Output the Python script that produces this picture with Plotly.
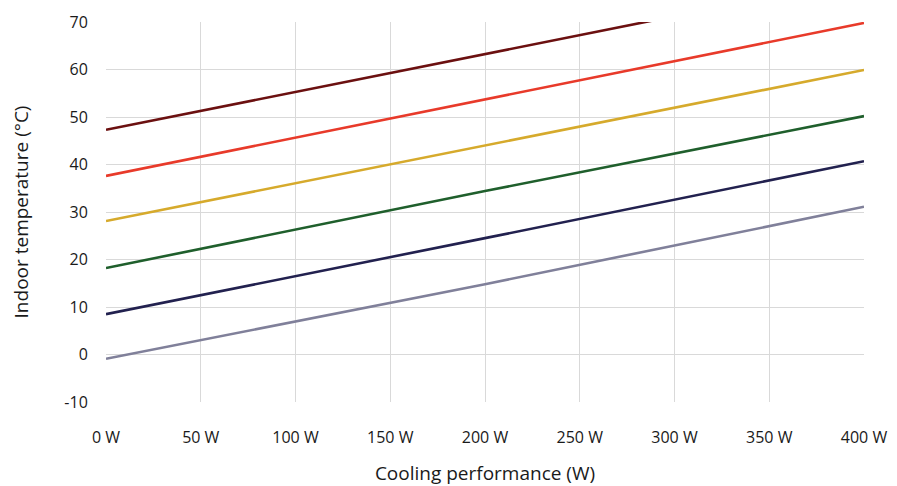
import plotly.graph_objects as go

x_w = [0, 200, 400]
series_names = ["Series A", "Series B", "Series C", "Series D", "Series E", "Series F"]
series_values = [
    [47.3, 63.3, 79.2],
    [37.6, 53.7, 69.8],
    [28.1, 44.0, 59.9],
    [18.2, 34.4, 50.2],
    [8.5, 24.5, 40.7],
    [-0.9, 14.8, 31.1],
]
colors = ["#6b1010", "#e83a2a", "#d6aa2c", "#1f5f2c", "#22214f", "#80809a"]
x_ticks = [0, 50, 100, 150, 200, 250, 300, 350, 400]
x_labels = [f"{v} W" for v in x_ticks]
y_ticks = [-10, 0, 10, 20, 30, 40, 50, 60, 70]
y_labels = [str(v) for v in y_ticks]

fig = go.Figure()
for name, vals, c in zip(series_names, series_values, colors):
    fig.add_trace(go.Scatter(x=x_w, y=vals, mode="lines", name=name,
                             line=dict(color=c, width=2.6)))

font = dict(family="Open Sans, Liberation Sans, sans-serif", size=16, color="#1a1a1a")
fig.update_layout(
    width=897, height=486,
    margin=dict(l=106, r=33, t=22, b=84),
    paper_bgcolor="white", plot_bgcolor="white",
    showlegend=False, font=font,
    xaxis=dict(range=[0, 400], tickvals=x_ticks, ticktext=x_labels,
               showgrid=True, gridcolor="#d9d9d9", gridwidth=1, zeroline=False,
               ticks="outside", ticklen=21, tickcolor="rgba(0,0,0,0)",
               title=dict(text="Cooling performance (W)", standoff=20),
               showline=False, automargin=False),
    yaxis=dict(range=[-10, 70], tickvals=y_ticks, ticktext=y_labels,
               showgrid=True, gridcolor="#d9d9d9", gridwidth=1, zeroline=False,
               ticks="outside", ticklen=14, tickcolor="rgba(0,0,0,0)",
               title=dict(text="Indoor temperature (°C)", standoff=30),
               showline=False, automargin=False),
)
fig.write_html("out.html")
